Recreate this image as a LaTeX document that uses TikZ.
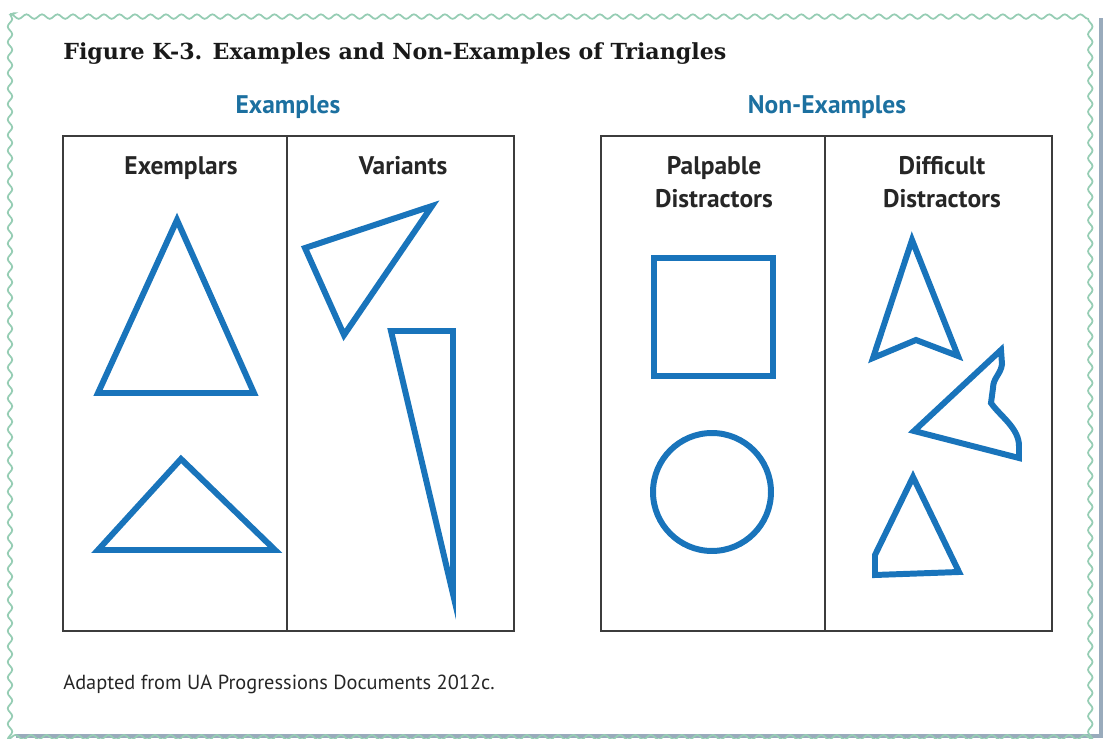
\documentclass[tikz,border=0pt]{standalone}
\usepackage{fontspec}
\setmainfont{PT Sans}
\newfontfamily\titlefont{DejaVu Serif}
\usetikzlibrary{decorations.pathmorphing}
\definecolor{shapeblue}{RGB}{25,116,187}
\definecolor{headblue}{RGB}{28,112,160}
\definecolor{framegreen}{RGB}{150,205,180}
\definecolor{shadowgrey}{RGB}{110,135,160}
\definecolor{boxgrey}{RGB}{60,60,60}
\tikzset{
 figline/.style={draw=shapeblue, line width=3.4pt, line join=miter},
 boxline/.style={draw=boxgrey, line width=1.1pt},
 colhead/.style={anchor=base, text=black!85, font=\bfseries\fontsize{14.5}{17}\selectfont},
 grouphead/.style={anchor=base, text=headblue, font=\bfseries\fontsize{14.5}{17}\selectfont}
}
\begin{document}
\begin{tikzpicture}[x=0.02cm,y=-0.02cm]
 \useasboundingbox (0,0) rectangle (1103,739);
 \draw[shadowgrey, line width=2.5pt, opacity=.7] (16,736) -- (1101,736) -- (1101,18);
 \draw[framegreen, line width=1pt, decorate,
  decoration={snake, segment length=0.31cm, amplitude=0.045cm}] (10,14) rectangle (1099,733);
 \node[anchor=base west, inner sep=0pt, text=black!90,
  font=\titlefont\bfseries\fontsize{12.6}{15}\selectfont] (title) at (63,60)
  {Figure K-3. Examples and Non-Examples of Triangles};
 \node[grouphead] (ex) at (288,114) {Examples};
 \node[grouphead] (nonex) at (827,114) {Non-Examples};
 \foreach \x in {63,601} {
  \draw[boxline] (\x,136) rectangle ++(451,495);
  \draw[boxline] (\x+224,136) -- ++(0,495);
 }
 \node[colhead] (exemp) at (181,175) {Exemplars};
 \node[colhead] (vari) at (403,175) {Variants};
 \node[colhead] (palp) at (714,175) {Palpable};
 \node[colhead] (palpdis) at (714,208) {Distractors};
 \node[colhead] (diff) at (942,175) {Difficult};
 \node[colhead] (diffdis) at (942,208) {Distractors};
 \draw[figline] (177,220) -- (98,393) -- (254,393) -- cycle;
 \draw[figline] (181,459) -- (98,550) -- (275,550) -- cycle;
 \draw[figline] (305,248) -- (432,206) -- (344,335) -- cycle;
 \draw[figline] (391,331) -- (453,331) -- (453,594) -- cycle;
 \draw[figline] (654,258) rectangle (773,376);
 \draw[figline] (712,492) circle[radius=1.18cm];
 \draw[figline] (912,240) -- (958,356) -- (916,340) -- (873,358) -- cycle;
 \draw[figline] (914,431) -- (1001,350) -- (1002,364)
  .. controls (1001,374) and (993,378) .. (993,388) -- (991,403)
  .. controls (1000,416) and (1019,428) .. (1019,446) -- (1019,458) -- cycle;
 \draw[figline] (913,477) -- (959,572) -- (875,575) -- (875,555) -- cycle;
 \node[anchor=base west, inner sep=0pt, text=black!85,
  font=\fontsize{11.6}{14}\selectfont] (source) at (63,690)
  {Adapted from UA Progressions Documents 2012c.};
\end{tikzpicture}
\end{document}
